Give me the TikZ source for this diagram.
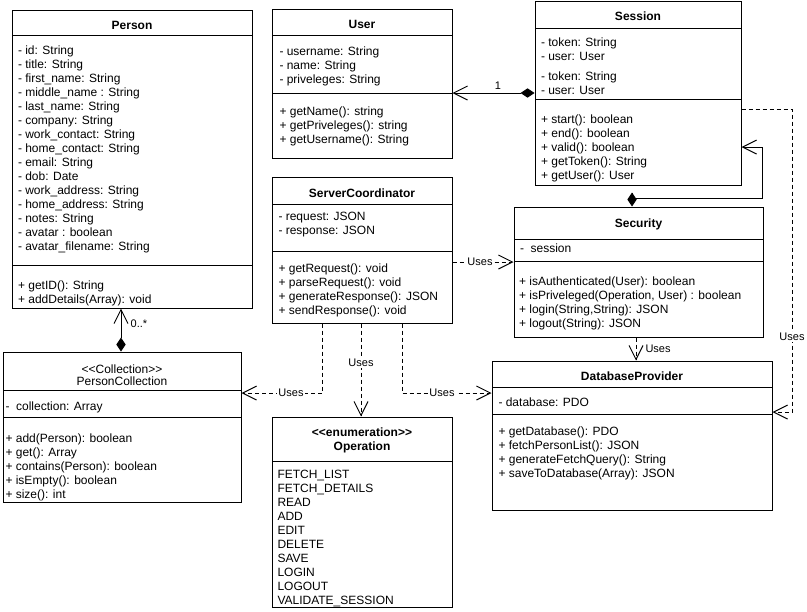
\documentclass[tikz,border=0pt]{standalone}
\usepackage{fontspec}
\setmainfont{Liberation Sans}
\usetikzlibrary{arrows.meta,fit}

\newcommand{\memberfont}{\fontsize{9}{10.5}\selectfont}
\newcommand{\tagfont}{\fontsize{8.25}{10}\selectfont}

\begin{document}
\begin{tikzpicture}[x=0.75pt, y=-0.75pt, line width=0.75pt,
    classbox/.style={draw=black, fill=white, inner sep=0pt},
    classname/.style={anchor=base, inner sep=0pt, font=\memberfont\bfseries},
    members/.style={anchor=north west, inner sep=0pt, align=left, font=\memberfont},
    uses/.style={dash pattern=on 3pt off 2.25pt, arrows={-Straight Barb[length=10.5pt, width=10.5pt]}},
    owns/.style={arrows={Straight Barb[length=10.5pt, width=10.5pt]-Diamond[length=10.5pt, width=7pt]}},
    usestag/.style={font=\tagfont, fill=white, inner sep=1pt},
    multi/.style={font=\tagfont, inner sep=0pt}]

\fill[white] (0,0) rectangle (807,611);
\useasboundingbox (0,0) rectangle (807,611);

% Person
\node[classbox, fit={(12,10) (252,308)}] (person) {};
\draw (12,35) -- (252,35) (12,265) -- (252,265);
\node[classname] (person-name) at (132,29.3) {Person};
\node[members] (person-attr) at (17.5,43.8) {\strut- id: String\\- title: String\\- first\_name: String\\- middle\_name : String\\- last\_name: String\\- company: String\\- work\_contact: String\\- home\_contact: String\\- email: String\\- dob: Date\\- work\_address: String\\- home\_address: String\\- notes: String\\- avatar : boolean\\- avatar\_filename: String};
\node[members] (person-ops) at (17.5,279.3) {\strut+ getID(): String\\+ addDetails(Array): void};

% User
\node[classbox, fit={(272,9) (452,158)}] (user) {};
\draw (272,35) -- (452,35) (272,93) -- (452,93);
\node[classname] (user-name) at (362,28.3) {User};
\node[members] (user-attr) at (279,44.8) {\strut- username: String\\- name: String\\- priveleges: String};
\node[members] (user-ops) at (279,105.5) {\strut+ getName(): string\\+ getPriveleges(): string\\+ getUsername(): String};

% Session
\node[classbox, fit={(535,1) (741,185)}] (session) {};
\draw (535,28) -- (741,28) (535,99) -- (741,99);
\node[classname] (session-name) at (638,20.7) {Session};
\node[members] (session-attr) at (540.5,36.5) {\strut- token: String\\- user: User};
\node[members] (session-attr2) at (540.5,69.8) {\strut- token: String\\- user: User};
\node[members] (session-ops) at (540.5,113.1) {\strut+ start(): boolean\\+ end(): boolean\\+ valid(): boolean\\+ getToken(): String\\+ getUser(): User};

% ServerCoordinator
\node[classbox, fit={(272,177) (452,323)}] (server) {};
\draw (272,204) -- (452,204) (272,251) -- (452,251);
\node[classname] (server-name) at (362,197.3) {ServerCoordinator};
\node[members] (server-attr) at (278,210.5) {\strut- request: JSON\\- response: JSON};
\node[members] (server-ops) at (278,262.5) {\strut+ getRequest(): void\\+ parseRequest(): void\\+ generateResponse(): JSON\\+ sendResponse(): void};

% Security
\node[classbox, fit={(514,207) (763,337)}] (security) {};
\draw (514,239) -- (763,239) (514,261) -- (763,261);
\node[classname] (security-name) at (638.5,227.3) {Security};
\node[members] (security-attr) at (519.5,241.9) {\strut- \ session};
\node[members] (security-ops) at (518.5,274.8) {\strut+ isAuthenticated(User): boolean\\+ isPriveleged(Operation, User) : boolean\\+ login(String,String): JSON\\+ logout(String): JSON};

% DatabaseProvider
\node[classbox, fit={(492,361) (772,510)}] (database) {};
\draw (492,387) -- (772,387) (492,414) -- (772,414);
\node[classname] (database-name) at (632,380.7) {DatabaseProvider};
\node[members] (database-attr) at (498,396.5) {\strut- database: PDO};
\node[members] (database-ops) at (498,425.5) {\strut+ getDatabase(): PDO\\+ fetchPersonList(): JSON\\+ generateFetchQuery(): String\\+ saveToDatabase(Array): JSON};

% PersonCollection
\node[classbox, fit={(3,352) (241,502)}] (collection) {};
\draw (3,390) -- (241,390) (3,417) -- (241,417);
\node[classname, font=\memberfont] (collection-stereo) at (122,373) {{<}{<}Collection{>}{>}};
\node[classname, font=\memberfont] (collection-name) at (122,385.5) {PersonCollection};
\node[members] (collection-attr) at (5,400.5) {\strut- \ collection: Array};
\node[members] (collection-ops) at (5,432.1) {\strut+ add(Person): boolean\\+ get(): Array\\+ contains(Person): boolean\\+ isEmpty(): boolean\\+ size(): int};

% Operation
\node[classbox, fit={(272,417) (452,607)}] (operation) {};
\draw (272,461) -- (452,461);
\node[classname] (operation-stereo) at (362,436) {{<}{<}enumeration{>}{>}};
\node[classname] (operation-name) at (362,450.5) {Operation};
\node[members] (operation-items) at (277,468.5) {\strut FETCH\_LIST\\FETCH\_DETAILS\\READ\\ADD\\EDIT\\DELETE\\SAVE\\LOGIN\\LOGOUT\\VALIDATE\_SESSION};

% associations
\draw[owns] (user.east |- 0,93) -- (session.west |- 0,93);
\node[multi] (user-mult) at (498,86) {1};
\draw[owns] (session.east |- 0,147) -| (762,198) -| (security.north -| 632,0);
\draw[owns] (person.south -| 121,0) -- (collection.north -| 121,0);
\node[multi] (person-mult) at (139,324) {0..*};

% dependencies
\draw[uses] (server.east |- 0,262) -- (security.west |- 0,262);
\node[usestag] (uses-security) at (480,262) {Uses};
\draw[uses] (security.south -| 636,0) -- (database.north -| 636,0);
\node[multi, anchor=west] (uses-database) at (645,349) {Uses};
\draw[uses] (session.east |- 0,109) -| (792,412) -- (database.east |- 0,412);
\node[usestag] (uses-session) at (792,337) {Uses};
\draw[uses] (server.south -| 322,0) |- (collection.east |- 0,393);
\node[usestag] (uses-collection) at (291,393) {Uses};
\draw[uses] (server.south -| 361,0) -- (operation.north -| 361,0);
\node[usestag] (uses-operation) at (361,363) {Uses};
\draw[uses] (server.south -| 402,0) |- (database.west |- 0,393);
\node[usestag] (uses-dbprov) at (442,393) {Uses};
\end{tikzpicture}
\end{document}
